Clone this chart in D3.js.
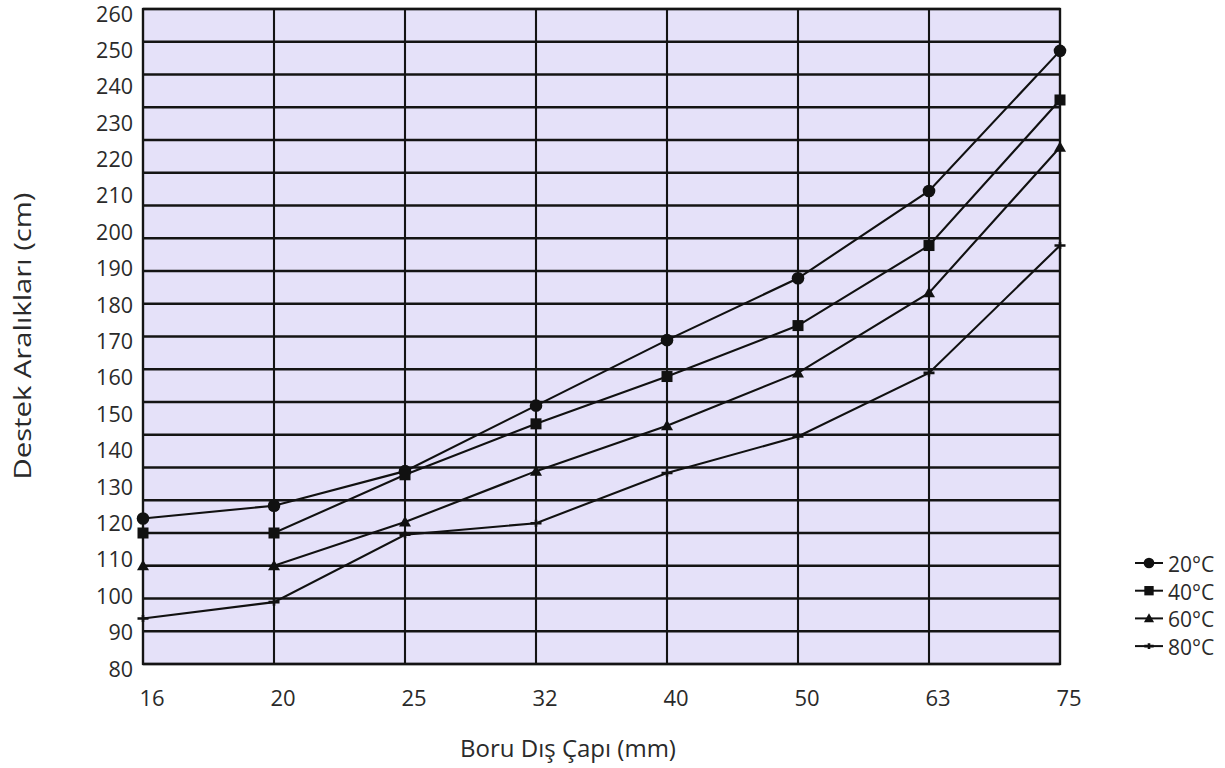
<!DOCTYPE html>
<html>
<head>
<meta charset="utf-8">
<script src="https://cdn.jsdelivr.net/npm/d3@7"></script>
<style>
  body { margin: 0; background: #fff; }
  svg { display: block; }
  text { font-family: "Open Sans", "Noto Sans", sans-serif; fill: #2a2a2a; }
</style>
</head>
<body>
<svg id="chart" width="1225" height="768"></svg>
<script>
// ---- data ----
const categories = ["16", "20", "25", "32", "40", "50", "63", "75"];
const yTickValues = [80, 90, 100, 110, 120, 130, 140, 150, 160, 170, 180, 190, 200, 210, 220, 230, 240, 250, 260];
const seriesNames = ["20°C", "40°C", "60°C", "80°C"];
const values20 = [120, 123.5, 133, 151, 169, 186, 210, 248.5];
const values40 = [116, 116, 132, 146, 159, 173, 195, 235];
const values60 = [107, 107, 119, 133, 145.5, 160, 182, 222];
const values80 = [92.5, 97, 115.5, 118.7, 132.5, 142.5, 160, 195];
const xTitle = "Boru Dış Çapı (mm)";
const yTitle = "Destek Aralıkları (cm)";

const series = [
  { name: seriesNames[0], values: values20, marker: "circle" },
  { name: seriesNames[1], values: values40, marker: "square" },
  { name: seriesNames[2], values: values60, marker: "triangle" },
  { name: seriesNames[3], values: values80, marker: "tick" }
];

// ---- layout ----
const plot = { left: 143, right: 1060, top: 9, bottom: 664 };
const svg = d3.select("#chart");

const x = d3.scalePoint().domain(categories).range([plot.left, plot.right]);
const y = d3.scaleLinear().domain([80, 260]).range([plot.bottom, plot.top]);
// the printed grid has 20 equal bands (not aligned with the labels)
const gridBands = 20;
const gy = d3.scaleLinear().domain([0, gridBands]).range([plot.bottom, plot.top]);

// background
svg.append("rect")
  .attr("x", plot.left).attr("y", plot.top)
  .attr("width", plot.right - plot.left).attr("height", plot.bottom - plot.top)
  .attr("fill", "#e5e1f9");

// horizontal grid
svg.append("g").selectAll("line").data(d3.range(0, gridBands + 1)).join("line")
  .attr("x1", plot.left).attr("x2", plot.right)
  .attr("y1", d => gy(d)).attr("y2", d => gy(d))
  .attr("stroke", "#141414").attr("stroke-width", 2.3);

// vertical grid
svg.append("g").selectAll("line").data(categories).join("line")
  .attr("x1", d => x(d)).attr("x2", d => x(d))
  .attr("y1", plot.top).attr("y2", plot.bottom)
  .attr("stroke", "#141414").attr("stroke-width", 2.1);

// frame
svg.append("rect")
  .attr("x", plot.left).attr("y", plot.top)
  .attr("width", plot.right - plot.left).attr("height", plot.bottom - plot.top)
  .attr("fill", "none").attr("stroke", "#141414").attr("stroke-width", 2.3);

// y tick labels
svg.append("g").selectAll("text").data(yTickValues).join("text")
  .attr("x", plot.left - 10)
  .attr("y", d => y(d) + 4)
  .attr("text-anchor", "end")
  .attr("dominant-baseline", "central")
  .style("font-size", "21.5px")
  .text(d => d);

// x tick labels
svg.append("g").selectAll("text").data(categories).join("text")
  .attr("x", d => x(d) + 9)
  .attr("y", 697)
  .attr("text-anchor", "middle")
  .attr("dominant-baseline", "central")
  .style("font-size", "22px")
  .text(d => d);

// axis titles
svg.append("text")
  .attr("x", 568).attr("y", 747)
  .attr("text-anchor", "middle").attr("dominant-baseline", "central")
  .style("font-size", "24px")
  .text(xTitle);

svg.append("text")
  .attr("transform", "translate(22,336) rotate(-90)")
  .attr("text-anchor", "middle").attr("dominant-baseline", "central")
  .attr("textLength", 287).attr("lengthAdjust", "spacingAndGlyphs")
  .style("font-size", "23px")
  .text(yTitle);

// markers
function drawMarker(g, type, cx, cy, scale = 1) {
  if (type === "circle") {
    g.append("circle").attr("cx", cx).attr("cy", cy).attr("r", 6.3 * scale).attr("fill", "#111");
  } else if (type === "square") {
    const s = 11 * scale;
    g.append("rect").attr("x", cx - s / 2).attr("y", cy - s / 2).attr("width", s).attr("height", s).attr("fill", "#111");
  } else if (type === "triangle") {
    const s = 6 * scale;
    g.append("path").attr("d", `M${cx},${cy - s}L${cx + s},${cy + s * 0.75}L${cx - s},${cy + s * 0.75}Z`).attr("fill", "#111");
  } else {
    const w = 5.5 * scale, h = 3.5 * scale;
    g.append("path").attr("d", `M${cx - w},${cy}L${cx + w},${cy}M${cx},${cy - h}L${cx},${cy + h}`)
      .attr("stroke", "#111").attr("stroke-width", 2.6).attr("fill", "none");
  }
}

const line = d3.line().x((d, i) => x(categories[i])).y(d => y(d));

series.forEach(s => {
  const g = svg.append("g");
  g.append("path").attr("d", line(s.values))
    .attr("fill", "none").attr("stroke", "#111").attr("stroke-width", 2.1);
  s.values.forEach((v, i) => drawMarker(g, s.marker, x(categories[i]), y(v)));
});

// legend
const legend = svg.append("g");
series.forEach((s, i) => {
  const ly = 563 + i * 27.7;
  legend.append("line").attr("x1", 1135).attr("x2", 1163).attr("y1", ly).attr("y2", ly)
    .attr("stroke", "#111").attr("stroke-width", 2);
  drawMarker(legend, s.marker, 1149, ly, 0.85);
  legend.append("text").attr("x", 1168).attr("y", ly + 1)
    .attr("dominant-baseline", "central")
    .style("font-size", "21px")
    .text(s.name);
});
</script>
</body>
</html>
